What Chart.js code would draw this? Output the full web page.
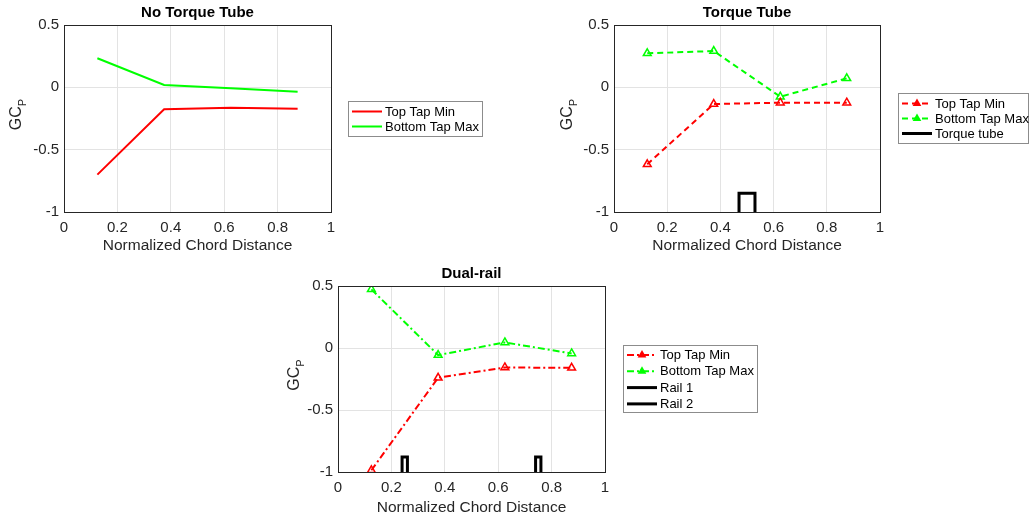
<!DOCTYPE html>
<html>
<head>
<meta charset="utf-8">
<script src="https://cdn.jsdelivr.net/npm/chart.js@4/dist/chart.umd.min.js"></script>
<style>
  body { margin: 0; background: #fff; width: 1030px; height: 519px; position: relative; overflow: hidden; }
  canvas { position: absolute; }
</style>
</head>
<body>
<canvas id="c1" width="500" height="260" style="left:0px;top:0px"></canvas>
<canvas id="c2" width="480" height="260" style="left:550px;top:0px"></canvas>
<canvas id="c3" width="490" height="259" style="left:280px;top:260px"></canvas>
<script>
// data
const chordX = [0.125, 0.375, 0.625, 0.875];
const xTicks = [0, 0.2, 0.4, 0.6, 0.8, 1];
const yTicks = [-1, -0.5, 0, 0.5];

const noTubeTopMin = [-0.70, -0.176, -0.163, -0.171];
const noTubeBottomMax = [0.233, 0.019, -0.008, -0.035];

const tubeTopMin = [-0.617, -0.134, -0.123, -0.123];
const tubeBottomMax = [0.273, 0.291, -0.075, 0.072];
const torqueTubeX = [0.47, 0.47, 0.53, 0.53];
const torqueTubeY = [-1, -0.85, -0.85, -1];

const railTopMin = [-0.986, -0.24, -0.157, -0.16];
const railBottomMax = [0.473, -0.057, 0.045, -0.044];
const rail1X = [0.24, 0.24, 0.26, 0.26];
const rail2X = [0.74, 0.74, 0.76, 0.76];
const railY = [-1, -0.88, -0.88, -1];

const FONT = "'Liberation Sans', Arial, sans-serif";
const AXIS = '#262626';

const pts = (xs, ys) => xs.map((x, i) => ({ x: x, y: ys[i] }));

// draws title, axis labels, box and legend
const matlabLook = {
  id: 'matlabLook',
  afterDraw(chart, args, opts) {
    const ctx = chart.ctx;
    const a = chart.chartArea;
    ctx.save();
    // box
    ctx.strokeStyle = AXIS;
    ctx.lineWidth = 1;
    ctx.strokeRect(Math.round(a.left) + 0.5, Math.round(a.top) + 0.5, Math.round(a.right - a.left), Math.round(a.bottom - a.top));
    // title
    ctx.fillStyle = '#000';
    ctx.font = 'bold 15px ' + FONT;
    ctx.textAlign = 'center';
    ctx.textBaseline = 'middle';
    ctx.fillText(opts.title, (a.left + a.right) / 2, opts.titleY);
    // x label
    ctx.fillStyle = AXIS;
    ctx.font = '15.5px ' + FONT;
    ctx.fillText('Normalized Chord Distance', (a.left + a.right) / 2, opts.xLabelY);
    // y label GC_P
    ctx.translate(opts.yLabelX, (a.top + a.bottom) / 2 - 4);
    ctx.rotate(-Math.PI / 2);
    ctx.font = '16px ' + FONT;
    const w1 = ctx.measureText('GC').width;
    ctx.font = '11px ' + FONT;
    const w2 = ctx.measureText('P').width;
    ctx.textAlign = 'left';
    ctx.font = '16px ' + FONT;
    ctx.fillText('GC', -(w1 + w2) / 2, 0);
    ctx.font = '11px ' + FONT;
    ctx.fillText('P', -(w1 + w2) / 2 + w1, 6);
    ctx.setTransform(1, 0, 0, 1, 0, 0);

    // legend
    const L = opts.legend;
    ctx.fillStyle = '#fff';
    ctx.fillRect(L.x, L.y, L.w, L.h);
    ctx.strokeStyle = '#8c8c8c';
    ctx.lineWidth = 1;
    ctx.strokeRect(L.x + 0.5, L.y + 0.5, L.w, L.h);
    ctx.font = '13px ' + FONT;
    ctx.textAlign = 'left';
    ctx.textBaseline = 'middle';
    chart.data.datasets.forEach((ds, i) => {
      const y = L.firstRow + i * L.rowH;
      ctx.strokeStyle = ds.borderColor;
      ctx.lineWidth = ds.borderWidth;
      ctx.setLineDash(ds.borderDash || []);
      ctx.beginPath();
      ctx.moveTo(L.x + 4, y);
      ctx.lineTo(L.x + 4 + L.sample, y);
      ctx.stroke();
      ctx.setLineDash([]);
      if (ds.pointRadius > 0) {
        const cx = L.x + 4 + L.sample / 2;
        const r = 5;
        ctx.fillStyle = ds.borderColor;
        ctx.beginPath();
        ctx.moveTo(cx, y - r);
        ctx.lineTo(cx + r * 0.87, y + r * 0.5);
        ctx.lineTo(cx - r * 0.87, y + r * 0.5);
        ctx.closePath();
        ctx.fill();
      }
      ctx.fillStyle = '#000';
      ctx.fillText(ds.label, L.x + 7 + L.sample, y + 0.5);
    });
    ctx.restore();
  }
};

function makeChart(id, datasets, look, pad) {
  new Chart(document.getElementById(id), {
    type: 'line',
    data: { datasets: datasets },
    plugins: [matlabLook],
    options: {
      responsive: false,
      animation: false,
      devicePixelRatio: 1,
      layout: { padding: { top: pad.top, right: pad.right, left: 0, bottom: 0 } },
      plugins: {
        legend: { display: false },
        tooltip: { enabled: false },
        matlabLook: look
      },
      scales: {
        x: {
          type: 'linear', min: 0, max: 1,
          afterBuildTicks: s => { s.ticks = xTicks.map(v => ({ value: v })); },
          afterFit: s => { s.height = pad.xh; },
          grid: { color: '#e3e3e3', drawTicks: false },
          border: { color: AXIS },
          ticks: { color: AXIS, padding: 7, font: { family: FONT, size: 15 }, maxRotation: 0, callback: v => String(v) }
        },
        y: {
          min: -1, max: 0.5,
          afterBuildTicks: s => { s.ticks = yTicks.map(v => ({ value: v })); },
          afterFit: s => { s.width = pad.yw; },
          grid: { color: '#e3e3e3', drawTicks: false },
          border: { color: AXIS },
          ticks: { color: AXIS, padding: 5, font: { family: FONT, size: 15 }, callback: v => String(v) }
        }
      }
    }
  });
}

const tri = { pointStyle: 'triangle', pointRadius: 4.5, pointBorderWidth: 1.5, pointBackgroundColor: 'rgba(0,0,0,0)' };

makeChart('c1', [
  { label: 'Top Tap Min', data: pts(chordX, noTubeTopMin), borderColor: '#ff0000', borderWidth: 2, pointRadius: 0 },
  { label: 'Bottom Tap Max', data: pts(chordX, noTubeBottomMax), borderColor: '#00ff00', borderWidth: 2, pointRadius: 0 }
], {
  title: 'No Torque Tube', titleY: 13, xLabelY: 246, yLabelX: 17,
  legend: { x: 348, y: 101, w: 134, h: 35, firstRow: 111.5, rowH: 15, sample: 30 }
}, { top: 25, right: 169, xh: 48, yw: 64 });

makeChart('c2', [
  Object.assign({ label: 'Top Tap Min', data: pts(chordX, tubeTopMin), borderColor: '#ff0000', pointBorderColor: '#ff0000', borderWidth: 2, borderDash: [6, 4] }, tri),
  Object.assign({ label: 'Bottom Tap Max', data: pts(chordX, tubeBottomMax), borderColor: '#00ff00', pointBorderColor: '#00ff00', borderWidth: 2, borderDash: [6, 4] }, tri),
  { label: 'Torque tube', data: pts(torqueTubeX, torqueTubeY), borderColor: '#000', borderWidth: 3, pointRadius: 0 }
], {
  title: 'Torque Tube', titleY: 13, xLabelY: 246, yLabelX: 18,
  legend: { x: 348, y: 93, w: 130, h: 50, firstRow: 103.5, rowH: 15, sample: 30 }
}, { top: 25, right: 150, xh: 48, yw: 64 });

makeChart('c3', [
  Object.assign({ label: 'Top Tap Min', data: pts(chordX, railTopMin), borderColor: '#ff0000', pointBorderColor: '#ff0000', borderWidth: 2, borderDash: [7, 3, 2, 3] }, tri),
  Object.assign({ label: 'Bottom Tap Max', data: pts(chordX, railBottomMax), borderColor: '#00ff00', pointBorderColor: '#00ff00', borderWidth: 2, borderDash: [7, 3, 2, 3] }, tri),
  { label: 'Rail 1', data: pts(rail1X, railY), borderColor: '#000', borderWidth: 3, pointRadius: 0 },
  { label: 'Rail 2', data: pts(rail2X, railY), borderColor: '#000', borderWidth: 3, pointRadius: 0 }
], {
  title: 'Dual-rail', titleY: 14, xLabelY: 248, yLabelX: 15,
  legend: { x: 343, y: 85, w: 134, h: 67, firstRow: 95, rowH: 16.3, sample: 30 }
}, { top: 26, right: 165, xh: 47, yw: 58 });
</script>
</body>
</html>
